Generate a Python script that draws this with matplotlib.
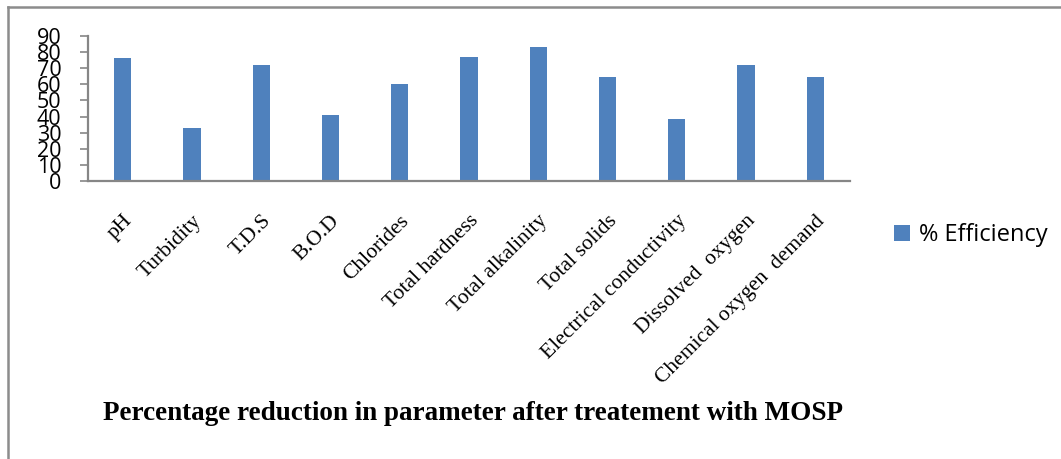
import matplotlib
matplotlib.use('Agg')
import matplotlib.pyplot as plt
from matplotlib.lines import Line2D

parameters = ['pH', 'Turbidity', 'T.D.S', 'B.O.D', 'Chlorides', 'Total hardness',
              'Total alkalinity', 'Total solids', 'Electrical conductivity',
              'Dissolved  oxygen', 'Chemical oxygen  demand']
efficiency = [76.3, 32.9, 72.2, 40.8, 60.0, 77.0, 83.4, 64.4, 38.5, 71.9, 64.7]
yticks = list(range(0, 100, 10))

W, H = 1061, 459
fig = plt.figure(figsize=(W / 100, H / 100), dpi=100)

# frame lines of the chart area (top and left only)
fig.add_artist(Line2D([8 / W, 1], [1 - 7 / H, 1 - 7 / H], color='#8c8c8c', lw=1.8))
fig.add_artist(Line2D([8 / W, 8 / W], [0, 1 - 7 / H], color='#8c8c8c', lw=1.8))

ax = fig.add_axes([88 / W, 1 - 181 / H, (850 - 88) / W, 145 / H])
x = range(len(parameters))
ax.bar(x, efficiency, width=0.25, color='#4f81bd', label='% Efficiency')
ax.set_xlim(-0.5, len(parameters) - 0.5)
ax.set_ylim(0, 90)
ax.set_yticks(yticks)
ax.set_yticklabels([str(v) for v in yticks], fontsize=15.5, family='Open Sans')
ax.tick_params(axis='y', length=6, width=1.2, color='#868686', pad=13)
ax.set_xticks(list(x))
ax.set_xticklabels(parameters, rotation=45, ha='right', va='top',
                   rotation_mode='anchor', family='Liberation Serif', fontsize=15.5)
ax.tick_params(axis='x', length=0, pad=22)
for s in ['top', 'right']:
    ax.spines[s].set_visible(False)
for s in ['left', 'bottom']:
    ax.spines[s].set_color('#868686')
    ax.spines[s].set_linewidth(1.6)

ax.legend(loc='center left', bbox_to_anchor=(873 / W, 1 - 235 / H),
          bbox_transform=fig.transFigure, frameon=False, handlelength=0.65,
          handleheight=0.65, handletextpad=0.4,
          prop={'family': 'Open Sans', 'size': 17})

fig.text(473 / W, 1 - 413 / H, 'Percentage reduction in parameter after treatement with MOSP',
         ha='center', va='center', family='Liberation Serif', weight='bold', fontsize=19.5)

fig.savefig('out.png', dpi=100)
